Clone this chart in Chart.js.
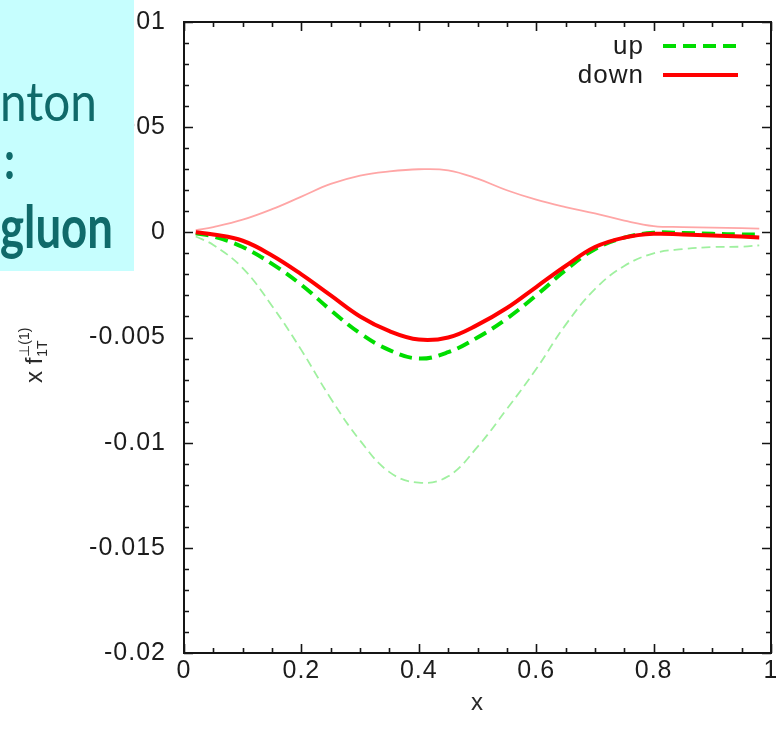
<!DOCTYPE html>
<html>
<head>
<meta charset="utf-8">
<script src="https://cdn.jsdelivr.net/npm/chart.js@4.4.1/dist/chart.umd.min.js"></script>
<style>
  html, body { margin: 0; padding: 0; background: #ffffff; }
  canvas { display: block; }
</style>
</head>
<body>
<canvas id="chart" width="776" height="738"></canvas>
<script>
// Sampled x positions of the curves
const xValues = [0.02, 0.05, 0.10, 0.15, 0.20, 0.25, 0.30, 0.35, 0.40, 0.45, 0.50,
                 0.55, 0.60, 0.65, 0.70, 0.75, 0.80, 0.85, 0.90, 0.95, 0.98];

// x f_{1T}^{perp(1)} for the down quark (thick solid red)
const downValues = [0.0, -0.0001, -0.0004, -0.0011, -0.0020, -0.0030, -0.0040, -0.0047, -0.0051, -0.0050, -0.0044,
                    -0.0036, -0.0026, -0.0016, -0.0007, -0.00025, -0.00007, -0.0001, -0.00015, -0.0002, -0.00024];

// x f_{1T}^{perp(1)} for the up quark (thick dashed green)
const upValues = [-0.00005, -0.0002, -0.0007, -0.0015, -0.0025, -0.0037, -0.0048, -0.0056, -0.0060, -0.0057, -0.0050,
                  -0.0041, -0.0030, -0.0018, -0.0008, -0.00025, -0.00002, -0.00003, -0.00007, -0.0001, -0.00011];

// Companion curves drawn thin and pale
const downBand = [0.0001, 0.00025, 0.0006, 0.0011, 0.0017, 0.0023, 0.0027, 0.0029, 0.0030, 0.00295, 0.00255,
                  0.0020, 0.00155, 0.0012, 0.0009, 0.00056, 0.0003, 0.00025, 0.00022, 0.0002, 0.00018];
const upBand = [-0.0002, -0.0006, -0.0017, -0.0035, -0.0056, -0.0079, -0.0099, -0.0114, -0.0119, -0.0116, -0.0102,
                -0.0084, -0.0065, -0.0044, -0.0027, -0.0016, -0.0010, -0.0008, -0.0007, -0.00068, -0.00062];

// Axis ticks and labels
const xTickValues = [0, 0.2, 0.4, 0.6, 0.8, 1];
const xTickLabels = ['0', '0.2', '0.4', '0.6', '0.8', '1'];
const yTickValues = [-0.02, -0.015, -0.01, -0.005, 0, 0.005, 0.01];
const yTickLabels = ['-0.02', '-0.015', '-0.01', '-0.005', '0', '0.005', '0.01'];
const xMinorStep = 0.05;
const yMinorStep = 0.001;

const labelFont = 'Liberation Sans, Arial, sans-serif';
const textColor = '#1c1c1c';

const toPoints = (ys) => xValues.map((x, i) => ({ x: x, y: ys[i] }));

// Slightly open letter spacing for the axis text
const spacingPlugin = {
  id: 'spacing',
  beforeDraw(chart) { chart.ctx.letterSpacing = '1px'; }
};

// Inward tick marks on all four sides plus the closed frame
const framePlugin = {
  id: 'frame',
  afterDatasetsDraw(chart) {
    const { ctx, chartArea: a, scales: { x, y } } = chart;
    ctx.save();
    ctx.strokeStyle = '#151515';
    ctx.lineWidth = 1.6;
    ctx.beginPath();
    const nx = Math.round((x.max - x.min) / xMinorStep);
    for (let i = 0; i <= nx; i++) {
      const v = x.min + i * xMinorStep;
      const px = Math.round(x.getPixelForValue(v)) + 0.5;
      const isMajor = xTickValues.some(t => Math.abs(t - v) < 1e-9);
      const len = isMajor ? 9 : 5;
      ctx.moveTo(px, a.bottom); ctx.lineTo(px, a.bottom - len);
      ctx.moveTo(px, a.top); ctx.lineTo(px, a.top + len);
    }
    const ny = Math.round((y.max - y.min) / yMinorStep);
    for (let i = 0; i <= ny; i++) {
      const v = y.min + i * yMinorStep;
      const py = Math.round(y.getPixelForValue(v)) + 0.5;
      const isMajor = yTickValues.some(t => Math.abs(t - v) < 1e-9);
      const len = isMajor ? 9 : 5;
      ctx.moveTo(a.left, py); ctx.lineTo(a.left + len, py);
      ctx.moveTo(a.right, py); ctx.lineTo(a.right - len, py);
    }
    ctx.stroke();
    ctx.lineWidth = 2;
    ctx.strokeRect(a.left, a.top, a.right - a.left, a.bottom - a.top);
    ctx.restore();
  }
};

// Key in the top right corner: text right-aligned, line sample after it
const keyPlugin = {
  id: 'key',
  afterDatasetsDraw(chart) {
    const { ctx } = chart;
    const entries = chart.data.datasets.filter(d => d.inKey);
    ctx.save();
    ctx.font = '26px ' + labelFont;
    ctx.fillStyle = textColor;
    ctx.textAlign = 'right';
    ctx.textBaseline = 'middle';
    entries.sort((p, q) => p.keyRow - q.keyRow).forEach((d, i) => {
      const yRow = 47 + i * 29;
      ctx.fillText(d.label, 644, yRow);
      ctx.save();
      ctx.strokeStyle = d.borderColor;
      ctx.lineWidth = d.borderWidth;
      ctx.setLineDash(d.borderDash || []);
      ctx.beginPath();
      ctx.moveTo(663, yRow - 1);
      ctx.lineTo(738, yRow - 1);
      ctx.stroke();
      ctx.restore();
    });
    ctx.restore();
  }
};

// Rotated y-axis title with sub- and superscript
const yTitlePlugin = {
  id: 'yTitle',
  afterDraw(chart) {
    const { ctx } = chart;
    ctx.save();
    ctx.letterSpacing = '0px';
    ctx.translate(42, 383);
    ctx.rotate(-Math.PI / 2);
    ctx.fillStyle = '#2a2a2a';
    ctx.textBaseline = 'alphabetic';
    ctx.textAlign = 'left';
    ctx.font = '24px ' + labelFont;
    const main = 'x f';
    ctx.fillText(main, 0, 0);
    const w = ctx.measureText(main).width + 1;
    ctx.font = '14px ' + labelFont;
    ctx.fillText('1T', w, 5);
    ctx.fillText('\u22A5(1)', w, -13);
    ctx.restore();
  }
};

// Pale cyan note box on the upper left
const notePlugin = {
  id: 'note',
  afterDraw(chart) {
    const { ctx } = chart;
    ctx.save();
    ctx.letterSpacing = '0px';
    ctx.fillStyle = '#c6fefe';
    ctx.fillRect(0, 0, 134, 271);
    ctx.fillStyle = '#0f6a6a';
    ctx.textBaseline = 'alphabetic';
    ctx.textAlign = 'left';
    const fit = (text, x, base, font, width) => {
      ctx.font = font;
      const w = ctx.measureText(text).width;
      ctx.save();
      ctx.translate(x, base);
      ctx.scale(width / w, 1);
      ctx.fillText(text, 0, 0);
      ctx.restore();
    };
    fit('nton', 0, 121, '54px Lato, sans-serif', 97);
    fit(':', 4, 179, 'bold 54px Lato, sans-serif', 11);
    fit('gluon', 0, 248, 'bold 60px Lato, sans-serif', 113);
    ctx.restore();
  }
};

new Chart(document.getElementById('chart'), {
  type: 'line',
  data: {
    datasets: [
      {
        label: 'down', inKey: true, keyRow: 1,
        data: toPoints(downValues),
        borderColor: '#ff0000', borderWidth: 4,
        tension: 0.4, pointRadius: 0, fill: false
      },
      {
        label: 'up', inKey: true, keyRow: 0,
        data: toPoints(upValues),
        borderColor: '#00dd00', borderWidth: 4, borderDash: [13, 7],
        tension: 0.4, pointRadius: 0, fill: false
      },
      {
        label: 'down, companion',
        data: toPoints(downBand),
        borderColor: '#ffa6a6', borderWidth: 1.8,
        tension: 0.4, pointRadius: 0, fill: false
      },
      {
        label: 'up, companion',
        data: toPoints(upBand),
        borderColor: '#9ff09f', borderWidth: 1.8, borderDash: [9, 5],
        tension: 0.4, pointRadius: 0, fill: false
      }
    ]
  },
  options: {
    responsive: false,
    devicePixelRatio: 1,
    animation: false,
    layout: { padding: { top: 22, right: 5, left: 0, bottom: 0 } },
    plugins: { legend: { display: false }, tooltip: { enabled: false } },
    scales: {
      x: {
        type: 'linear', min: 0, max: 1,
        afterFit: (s) => { s.height = 85; s.paddingLeft = 0; s.paddingRight = 0; },
        afterBuildTicks: (s) => { s.ticks = xTickValues.map(v => ({ value: v })); },
        grid: { display: false, drawTicks: false, tickLength: 0 },
        border: { display: false },
        ticks: {
          padding: 3, color: textColor, maxRotation: 0, autoSkip: false,
          font: { family: labelFont, size: 25 },
          callback: (v, i) => xTickLabels[i]
        },
        title: {
          display: true, text: 'x', color: '#2a2a2a',
          font: { family: labelFont, size: 24 },
          padding: { top: 0, bottom: 20 }
        }
      },
      y: {
        type: 'linear', min: -0.02, max: 0.01,
        afterFit: (s) => { s.width = 184; s.paddingTop = 0; s.paddingBottom = 0; },
        afterBuildTicks: (s) => { s.ticks = yTickValues.map(v => ({ value: v })); },
        grid: { display: false, drawTicks: false, tickLength: 0 },
        border: { display: false },
        ticks: {
          padding: 18, color: textColor, autoSkip: false,
          font: { family: labelFont, size: 25 },
          callback: (v, i) => yTickLabels[i]
        }
      }
    }
  },
  plugins: [spacingPlugin, framePlugin, keyPlugin, yTitlePlugin, notePlugin]
});
</script>
</body>
</html>
